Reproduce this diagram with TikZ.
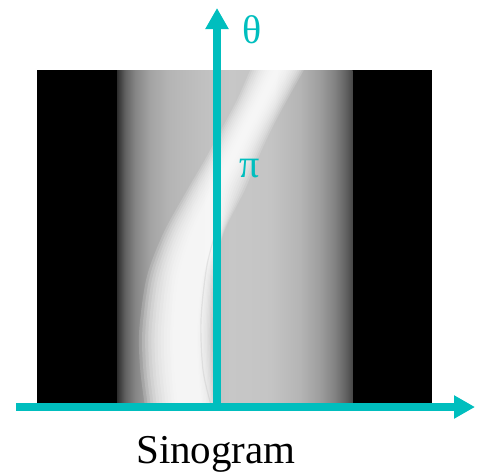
\documentclass[tikz,border=0pt]{standalone}
\usepackage{fontspec}
\setmainfont{Liberation Serif}
\usetikzlibrary{arrows.meta}
\definecolor{axisteal}{RGB}{0,190,190}
\pgfdeclarehorizontalshading{bandshade}{100bp}{rgb(0bp)=(0.18,0.18,0.18); rgb(25bp)=(0.18,0.18,0.18); rgb(26.7bp)=(0.38,0.38,0.38); rgb(28.8bp)=(0.52,0.52,0.52); rgb(32bp)=(0.64,0.64,0.64); rgb(36.2bp)=(0.71,0.71,0.71); rgb(42.6bp)=(0.75,0.75,0.75); rgb(48.9bp)=(0.78,0.78,0.78); rgb(57.4bp)=(0.77,0.77,0.77); rgb(63.8bp)=(0.71,0.71,0.71); rgb(68bp)=(0.62,0.62,0.62); rgb(71.2bp)=(0.51,0.51,0.51); rgb(73.3bp)=(0.40,0.40,0.40); rgb(75bp)=(0.28,0.28,0.28); rgb(100bp)=(0.28,0.28,0.28)}
\tikzset{
  axisline/.style={axisteal, line width=7.3pt, -{Triangle[width=22pt,length=21pt]}},
  axislabel/.style={text=axisteal, font=\fontsize{40}{44}\selectfont, inner sep=0pt},
  caption/.style={font=\fontsize{41}{46}\selectfont, inner sep=0pt, anchor=base},
  streak/.style={fill=white, opacity=0.17}
}
\begin{document}
\begin{tikzpicture}[x=1pt,y=-1pt]
\useasboundingbox (0,0) rectangle (490,472);
% sinogram image
\fill[black] (37,70) rectangle (432,405);
\shade[shading=bandshade] (117,70) rectangle (352.5,405);
\begin{scope}
\clip (117,70) rectangle (352.5,405);
\foreach \f in {1.25,1.15,1.05,0.95,0.85,0.75,0.65,0.55,0.45,0.35,0.25,0.15}{
  \path[streak] plot[smooth] coordinates {({282-22*\f},60) ({262-20*\f},100) ({246-20*\f},130) ({231-21*\f},160) ({216-23*\f},190) ({196-26*\f},233) ({183-29*\f},277) ({178-31*\f},330) ({179-31*\f},370) ({183-30*\f},410)}
  -- plot[smooth] coordinates {({183+30*(0.55+0.45*\f)},410) ({179+31*(0.55+0.45*\f)},370) ({178+31*(0.55+0.45*\f)},330) ({183+29*(0.6+0.4*\f)},277) ({196+26*(0.75+0.25*\f)},233) ({216+23*\f},190) ({231+21*\f},160) ({246+20*\f},130) ({262+20*\f},100) ({282+22*\f},60)} -- cycle;
}
\draw[black!30, opacity=0.25, line width=1.2pt] plot[smooth] coordinates {(218,225) (207,265) (201,320) (203,370) (211,405)};
\end{scope}
% axes
\coordinate (origin) at (217,407);
\coordinate (ytip) at (217,8);
\coordinate (xstart) at (16,407);
\coordinate (xtip) at (475,407);
\draw[axisline] (xstart) -- (xtip);
\draw[axisline] (origin) -- (ytip);
\node[axislabel] (theta) at (252,30) {θ};
\node[axislabel] (pi) at (250,169) {π};
\node[caption] (cap) at (216,463) {Sinogram};
\end{tikzpicture}
\end{document}
